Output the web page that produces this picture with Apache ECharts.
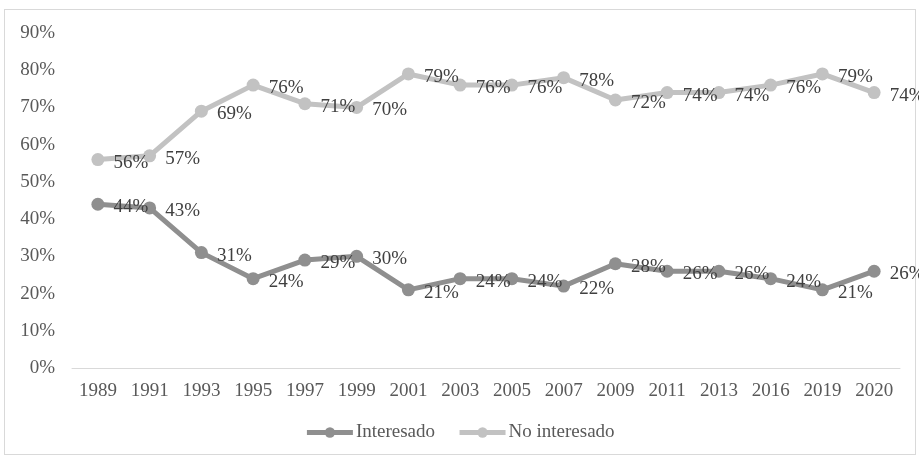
<!DOCTYPE html>
<html>
<head>
<meta charset="utf-8">
<script src="https://cdn.jsdelivr.net/npm/echarts@6/dist/echarts.min.js"></script>
<style>
html,body{margin:0;padding:0;background:#fff;}
#frame{position:absolute;left:4px;top:9px;width:912px;height:446px;border:1px solid #d9d9d9;box-sizing:border-box;}
#chart{position:absolute;left:0;top:0;width:919px;height:460px;}
</style>
</head>
<body>
<div id="frame"></div>
<div id="chart"></div>
<script>
var years = ['1989','1991','1993','1995','1997','1999','2001','2003','2005','2007','2009','2011','2013','2016','2019','2020'];
var interesado = [44,43,31,24,29,30,21,24,24,22,28,26,26,24,21,26];
var noInteresado = [56,57,69,76,71,70,79,76,76,78,72,74,74,76,79,74];
var yTicks = [0,10,20,30,40,50,60,70,80,90];

var font = "'Liberation Serif','Times New Roman',serif";
var chart = echarts.init(document.getElementById('chart'));
var colors = {'Interesado': '#8f8f8f', 'No interesado': '#c2c2c2'};
function mkSeries(name, data){
  var color = colors[name];
  return {
    name: name, type: 'line', data: data,
    symbol: 'circle', symbolSize: 13,
    lineStyle: {width: 5, color: color},
    itemStyle: {color: color},
    label: {show: true, position: 'right', distance: 9, offset:[0,3],
      formatter: function(p){return p.value + '%';},
      fontFamily: font, fontSize: 19, color: '#404040'},
    emphasis: {disabled: true},
    animation: false
  };
}
chart.setOption({
  animation: false,
  grid: {left: 72, right: 19, top: 33, bottom: 92, containLabel: false},
  legend: {
    bottom: 13, left: 'center', itemGap: 22, itemWidth: 46, itemHeight: 13,
    textStyle: {fontFamily: font, fontSize: 19, color: '#595959', padding: [0,0,0,-2]},
    data: [
      {name: 'Interesado', lineStyle: {width: 5, color: colors['Interesado']}, itemStyle: {color: colors['Interesado']}},
      {name: 'No interesado', lineStyle: {width: 5, color: colors['No interesado']}, itemStyle: {color: colors['No interesado']}}
    ]
  },
  xAxis: {
    type: 'category', data: years, boundaryGap: true,
    axisLine: {lineStyle: {color: '#d9d9d9', width: 1}},
    axisTick: {show: false},
    axisLabel: {fontFamily: font, fontSize: 19, color: '#595959', margin: 14, interval: 0}
  },
  yAxis: {
    type: 'value', min: yTicks[0], max: yTicks[yTicks.length-1], interval: 10,
    axisLine: {show: false}, axisTick: {show: false}, splitLine: {show: false},
    axisLabel: {formatter: '{value}%', fontFamily: font, fontSize: 19, color: '#595959', margin: 17}
  },
  series: [
    mkSeries('Interesado', interesado),
    mkSeries('No interesado', noInteresado)
  ]
});
</script>
</body>
</html>
